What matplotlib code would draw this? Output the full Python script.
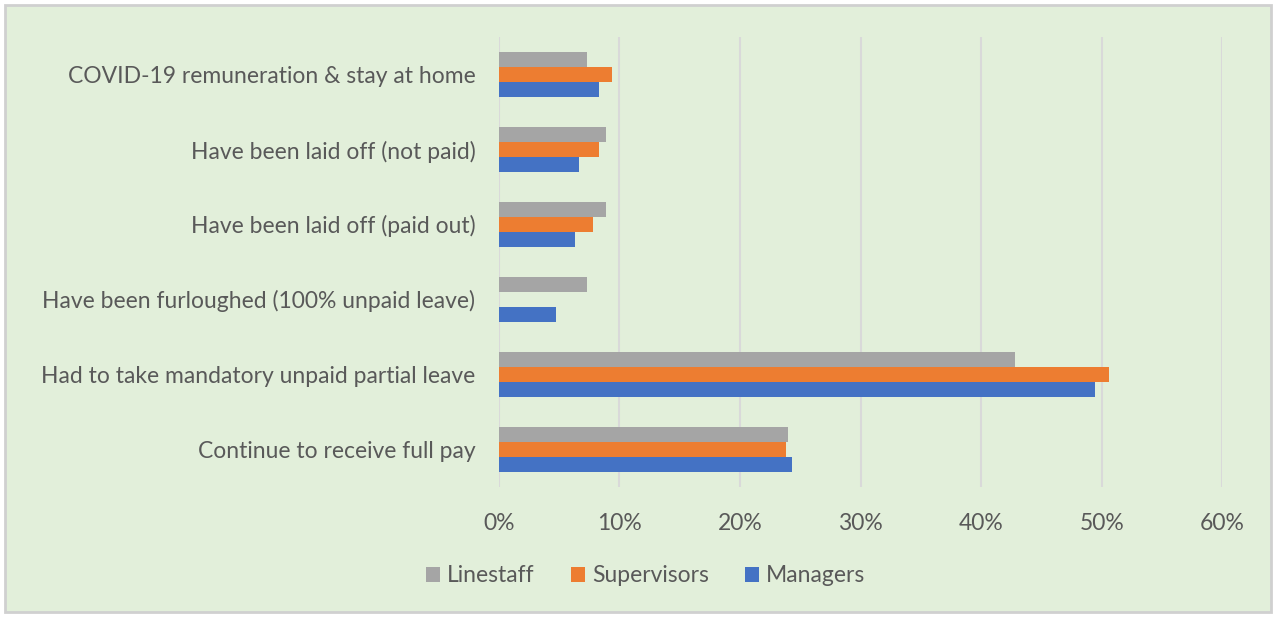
import numpy as np
import matplotlib
matplotlib.use("Agg")
import matplotlib.pyplot as plt
from matplotlib.patches import Rectangle
from matplotlib.ticker import PercentFormatter

# categories listed bottom to top
categories = [
    "Continue to receive full pay",
    "Had to take mandatory unpaid partial leave",
    "Have been furloughed (100% unpaid leave)",
    "Have been laid off (paid out)",
    "Have been laid off (not paid)",
    "COVID-19 remuneration & stay at home",
]
managers = [24.3, 49.4, 4.7, 6.3, 6.6, 8.3]
supervisors = [23.8, 50.6, 0.0, 7.8, 8.3, 9.4]
linestaff = [24.0, 42.8, 7.3, 8.9, 8.9, 7.3]

bg = "#E2EFDA"
txt = "#595959"
plt.rcParams["font.family"] = ["Lato", "DejaVu Sans"]

fig = plt.figure(figsize=(12.76, 6.17), dpi=100, facecolor="white")
fig.patches.append(Rectangle((0.004, 0.008), 0.992, 0.984, transform=fig.transFigure,
                             facecolor=bg, edgecolor="#D0D0D0", linewidth=2, zorder=-1))

ax = fig.add_axes([0.391, 0.211, 0.567, 0.729])
ax.set_facecolor("none")

y = np.arange(len(categories))
h = 0.2
ax.barh(y + h, linestaff, height=h, color="#A5A5A5", label="Linestaff", zorder=3)
ax.barh(y, supervisors, height=h, color="#ED7D31", label="Supervisors", zorder=3)
ax.barh(y - h, managers, height=h, color="#4472C4", label="Managers", zorder=3)

ax.set_xlim(0, 60)
ax.set_ylim(-0.5, len(categories) - 0.5)
ax.set_xticks(np.arange(0, 61, 10))
ax.xaxis.set_major_formatter(PercentFormatter(decimals=0))
ax.set_yticks(y)
ax.set_yticklabels(categories)
ax.grid(axis="x", color="#D9D9D9", linewidth=1.5, zorder=0)
for s in ax.spines.values():
    s.set_visible(False)
ax.tick_params(length=0, labelsize=16.5, labelcolor=txt)
ax.tick_params(axis="x", pad=19)
ax.tick_params(axis="y", pad=17)

ax.legend(loc="center", bbox_to_anchor=(0.203, -0.198), ncol=3, frameon=False,
          fontsize=16.5, labelcolor=txt, handlelength=0.6, handleheight=0.6,
          handletextpad=0.3, columnspacing=1.6)

fig.savefig("out.png", dpi=100, facecolor=fig.get_facecolor())
